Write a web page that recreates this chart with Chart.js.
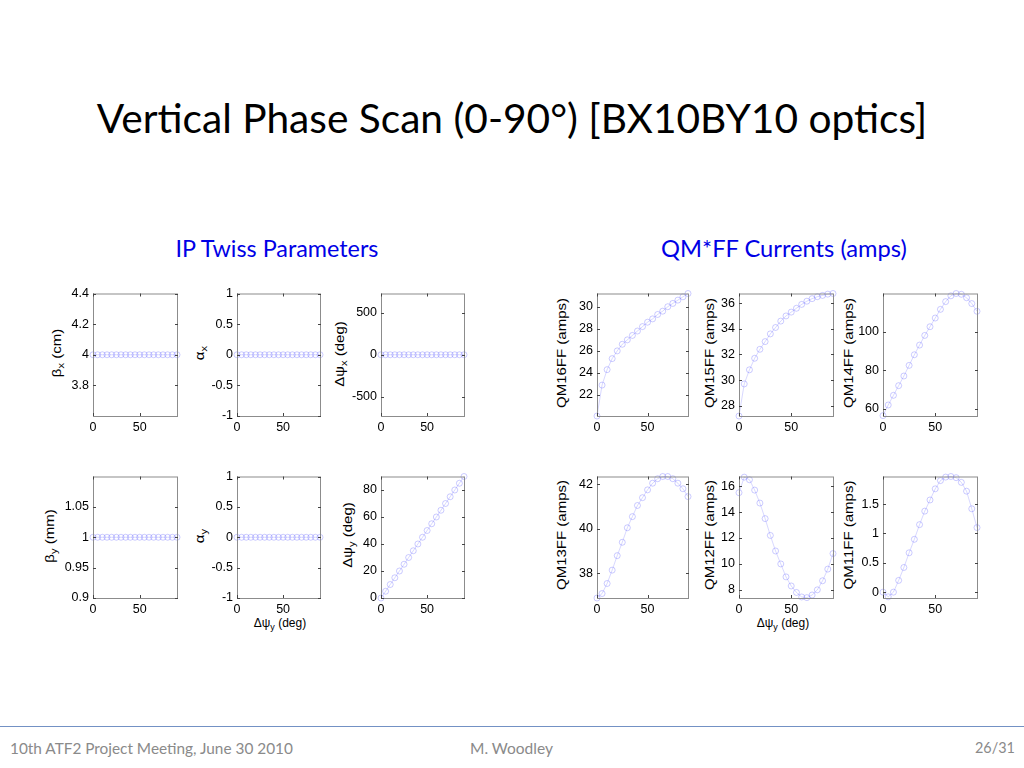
<!DOCTYPE html>
<html>
<head>
  <title>Vertical Phase Scan</title>
  <script src="https://cdn.jsdelivr.net/npm/chart.js"></script>
  <style>
    body { margin: 0; background: #fff; }
    #page { position: relative; width: 1024px; height: 768px; overflow: hidden; font-family: "Liberation Sans", Arial, sans-serif; }
    .abs { position: absolute; white-space: nowrap; line-height: 1; }
    .ctr { transform: translate(-50%, -50%); }
    .rot { transform: translate(-50%, -50%) rotate(-90deg) scale(1.25, 1); font-size: 12px; color: #000; }
    .xl { transform: translate(-50%, -50%); font-size: 12px; color: #000; }
    sub { font-size: 9px; vertical-align: -3px; }
    .slide { font-family: Lato, "Open Sans", sans-serif; }
    canvas { position: absolute; }
  </style>
</head>
<body>
<div id="page">
  <div class="abs ctr slide" data-w="831" style="left:512px; top:118px; font-size:40px; color:#000;">Vertical Phase Scan (0-90°) [BX10BY10 optics]</div>
  <div class="abs ctr slide" data-w="203" style="left:277px; top:249px; font-size:20px; color:#0000e6;">IP Twiss Parameters</div>
  <div class="abs ctr slide" data-w="246" style="left:784px; top:249px; font-size:20px; color:#0000e6;">QM*FF Currents (amps)</div>

  <div class="abs rot" style="left:58px; top:353px;">β<sub>x</sub> (cm)</div>
  <div class="abs rot" style="left:201px; top:353px;">α<sub>x</sub></div>
  <div class="abs rot" style="left:341px; top:354px;">Δψ<sub>x</sub> (deg)</div>
  <div class="abs rot" style="left:562px; top:353px;">QM16FF (amps)</div>
  <div class="abs rot" style="left:710px; top:353px;">QM15FF (amps)</div>
  <div class="abs rot" style="left:849px; top:353px;">QM14FF (amps)</div>
  <div class="abs rot" style="left:51px; top:536px;">β<sub>y</sub> (mm)</div>
  <div class="abs rot" style="left:201px; top:536px;">α<sub>y</sub></div>
  <div class="abs rot" style="left:349px; top:535px;">Δψ<sub>y</sub> (deg)</div>
  <div class="abs rot" style="left:562px; top:535px;">QM13FF (amps)</div>
  <div class="abs rot" style="left:710px; top:535px;">QM12FF (amps)</div>
  <div class="abs rot" style="left:849px; top:535px;">QM11FF (amps)</div>
  <div class="abs xl" style="left:280px; top:624px;">Δψ<sub>y</sub> (deg)</div>
  <div class="abs xl" style="left:783px; top:624px;">Δψ<sub>y</sub> (deg)</div>

  <div style="position:absolute; left:0; top:726px; width:1024px; height:1px; background:#7391c4;"></div>
  <div class="abs slide" data-w="283" style="left:10px; top:741px; font-size:14px; color:#8a8a8a;">10th ATF2 Project Meeting, June 30 2010</div>
  <div class="abs slide" data-w="83" style="left:470px; top:741px; font-size:14px; color:#8a8a8a;">M. Woodley</div>
  <div class="abs slide" data-w="40" style="left:975px; top:741px; font-size:14px; color:#8a8a8a;">26/31</div>
</div>
<script>
// scan variable: vertical phase advance (deg)
var phaseY = [0, 5, 10, 15, 20, 25, 30, 35, 40, 45, 50, 55, 60, 65, 70, 75, 80, 85, 90];

// IP Twiss parameters
var betaX  = [4, 4, 4, 4, 4, 4, 4, 4, 4, 4, 4, 4, 4, 4, 4, 4, 4, 4, 4];
var alphaX = [0, 0, 0, 0, 0, 0, 0, 0, 0, 0, 0, 0, 0, 0, 0, 0, 0, 0, 0];
var dPsiX  = [0, 0, 0, 0, 0, 0, 0, 0, 0, 0, 0, 0, 0, 0, 0, 0, 0, 0, 0];
var betaY  = [1, 1, 1, 1, 1, 1, 1, 1, 1, 1, 1, 1, 1, 1, 1, 1, 1, 1, 1];
var alphaY = [0, 0, 0, 0, 0, 0, 0, 0, 0, 0, 0, 0, 0, 0, 0, 0, 0, 0, 0];
var dPsiY  = [0, 5, 10, 15, 20, 25, 30, 35, 40, 45, 50, 55, 60, 65, 70, 75, 80, 85, 90];

// QM*FF currents (amps)
var qm16ff = [20.1, 22.9, 24.3, 25.3, 26.0, 26.6, 27.0, 27.4, 27.8, 28.2, 28.6, 28.9, 29.3, 29.6, 30.0, 30.3, 30.6, 30.9, 31.2];
var qm15ff = [27.2, 29.7, 30.8, 31.7, 32.4, 33.0, 33.6, 34.1, 34.6, 35.0, 35.3, 35.6, 35.9, 36.15, 36.35, 36.5, 36.6, 36.7, 36.75];
var qm14ff = [56.5, 62, 67, 72, 77, 82.5, 88, 93, 98, 102.5, 107, 111.5, 115.5, 118.5, 119.7, 119.3, 117.5, 114.5, 110.5];
var qm13ff = [36.9, 37.1, 37.55, 38.15, 38.8, 39.4, 40.05, 40.55, 41.05, 41.4, 41.75, 42.05, 42.25, 42.35, 42.35, 42.25, 42.05, 41.8, 41.45];
var qm12ff = [15.5, 16.7, 16.5, 15.7, 14.7, 13.5, 12.2, 11.0, 10.0, 9.0, 8.3, 7.8, 7.45, 7.4, 7.6, 8.0, 8.7, 9.6, 10.8];
var qm11ff = [0.0, -0.08, 0.0, 0.2, 0.42, 0.67, 0.9, 1.15, 1.38, 1.57, 1.76, 1.9, 1.96, 1.97, 1.95, 1.87, 1.72, 1.42, 1.1];

// tick labels
var xTicks      = [0, 50];
var betaXTicks  = [3.8, 4, 4.2, 4.4];
var alphaTicks  = [-1, -0.5, 0, 0.5, 1];
var dPsiXTicks  = [-500, 0, 500];
var betaYTicks  = [0.9, 0.95, 1, 1.05];
var dPsiYTicks  = [0, 20, 40, 60, 80];
var qm16Ticks   = [22, 24, 26, 28, 30];
var qm15Ticks   = [28, 30, 32, 34, 36];
var qm14Ticks   = [60, 80, 100];
var qm13Ticks   = [38, 40, 42];
var qm12Ticks   = [8, 10, 12, 14, 16];
var qm11Ticks   = [0, 0.5, 1, 1.5];

// fit slide text widths
document.querySelectorAll('[data-w]').forEach(function (el) {
  var w = el.getBoundingClientRect().width;
  var fs = parseFloat(getComputedStyle(el).fontSize);
  el.style.fontSize = (fs * el.dataset.w / w) + 'px';
});

// matlab style box with inward ticks
var boxPlugin = {
  id: 'mbox',
  afterDraw: function (chart) {
    var c = chart.ctx, a = chart.chartArea;
    var xs = chart.scales.x, ys = chart.scales.y;
    c.save();
    c.strokeStyle = '#8c8c8c';
    c.lineWidth = 1;
    c.strokeRect(a.left + 0.5, a.top + 0.5, a.right - a.left, a.bottom - a.top);
    c.strokeStyle = '#444';
    c.beginPath();
    ys.ticks.forEach(function (t) {
      var y = Math.round(ys.getPixelForValue(t.value)) + 0.5;
      c.moveTo(a.left, y); c.lineTo(a.left + 3, y);
      c.moveTo(a.right - 2, y); c.lineTo(a.right + 1, y);
    });
    xs.ticks.forEach(function (t) {
      var x = Math.round(xs.getPixelForValue(t.value)) + 0.5;
      c.moveTo(x, a.bottom); c.lineTo(x, a.bottom - 3);
      c.moveTo(x, a.top); c.lineTo(x, a.top + 3);
    });
    c.stroke();
    c.restore();
  }
};

var PADL = 45, PADT = 8, PADR = 8, PADB = 22;

function subplot(box, ys, yMin, yMax, yTicks) {
  var cv = document.createElement('canvas');
  var w = box[1] - box[0] + PADL + PADR;
  var h = box[3] - box[2] + PADT + PADB;
  cv.width = w; cv.height = h;
  cv.style.left = (box[0] - PADL) + 'px';
  cv.style.top = (box[2] - PADT) + 'px';
  cv.style.width = w + 'px'; cv.style.height = h + 'px';
  document.getElementById('page').appendChild(cv);
  var tickFont = { family: '"Liberation Sans", Arial, sans-serif', size: 12.5 };
  return new Chart(cv.getContext('2d'), {
    type: 'line',
    data: {
      datasets: [{
        data: phaseY.map(function (x, i) { return { x: x, y: ys[i] }; }),
        borderColor: 'rgba(110,110,255,0.45)',
        borderWidth: 0.6,
        pointRadius: 3,
        pointBackgroundColor: 'rgba(0,0,0,0)',
        pointBorderColor: 'rgba(110,110,255,0.5)',
        pointBorderWidth: 0.7,
        tension: 0,
        clip: false
      }]
    },
    options: {
      responsive: false,
      animation: false,
      layout: { padding: { left: 0, top: PADT, right: PADR, bottom: 0 } },
      plugins: { legend: { display: false }, tooltip: { enabled: false } },
      scales: {
        x: {
          type: 'linear', min: 0, max: 90,
          grid: { display: false, drawTicks: false },
          border: { display: false },
          ticks: { autoSkip: false, padding: 4, color: '#000', font: tickFont, maxRotation: 0,
                   callback: function (v) { return String(v); } },
          afterBuildTicks: function (s) { s.ticks = xTicks.map(function (v) { return { value: v }; }); },
          afterFit: function (s) { s.height = PADB; }
        },
        y: {
          type: 'linear', min: yMin, max: yMax,
          grid: { display: false, drawTicks: false },
          border: { display: false },
          ticks: { autoSkip: false, padding: 4, color: '#000', font: tickFont,
                   callback: function (v) { return String(v); } },
          afterBuildTicks: function (s) { s.ticks = yTicks.map(function (v) { return { value: v }; }); },
          afterFit: function (s) { s.width = PADL; }
        }
      }
    },
    plugins: [boxPlugin]
  });
}

var top1 = [290, 416], top2 = [473, 598];
var cols = [[93, 177], [237, 320], [381, 464], [597, 688], [739, 833], [883, 977]];
function bx(c, r) { return [cols[c][0], cols[c][1], r[0], r[1]]; }

subplot(bx(0, top1), betaX, 3.6, 4.4, betaXTicks);
subplot(bx(1, top1), alphaX, -1, 1, alphaTicks);
subplot(bx(2, top1), dPsiX, -730, 730, dPsiXTicks);
subplot(bx(3, top1), qm16ff, 20.1, 31.2, qm16Ticks);
subplot(bx(4, top1), qm15ff, 27.2, 36.75, qm15Ticks);
subplot(bx(5, top1), qm14ff, 56.3, 119.7, qm14Ticks);
subplot(bx(0, top2), betaY, 0.9, 1.1, betaYTicks);
subplot(bx(1, top2), alphaY, -1, 1, alphaTicks);
subplot(bx(2, top2), dPsiY, 0, 90, dPsiYTicks);
subplot(bx(3, top2), qm13ff, 36.9, 42.35, qm13Ticks);
subplot(bx(4, top2), qm12ff, 7.37, 16.75, qm12Ticks);
subplot(bx(5, top2), qm11ff, -0.1, 1.97, qm11Ticks);
</script>
</body>
</html>
